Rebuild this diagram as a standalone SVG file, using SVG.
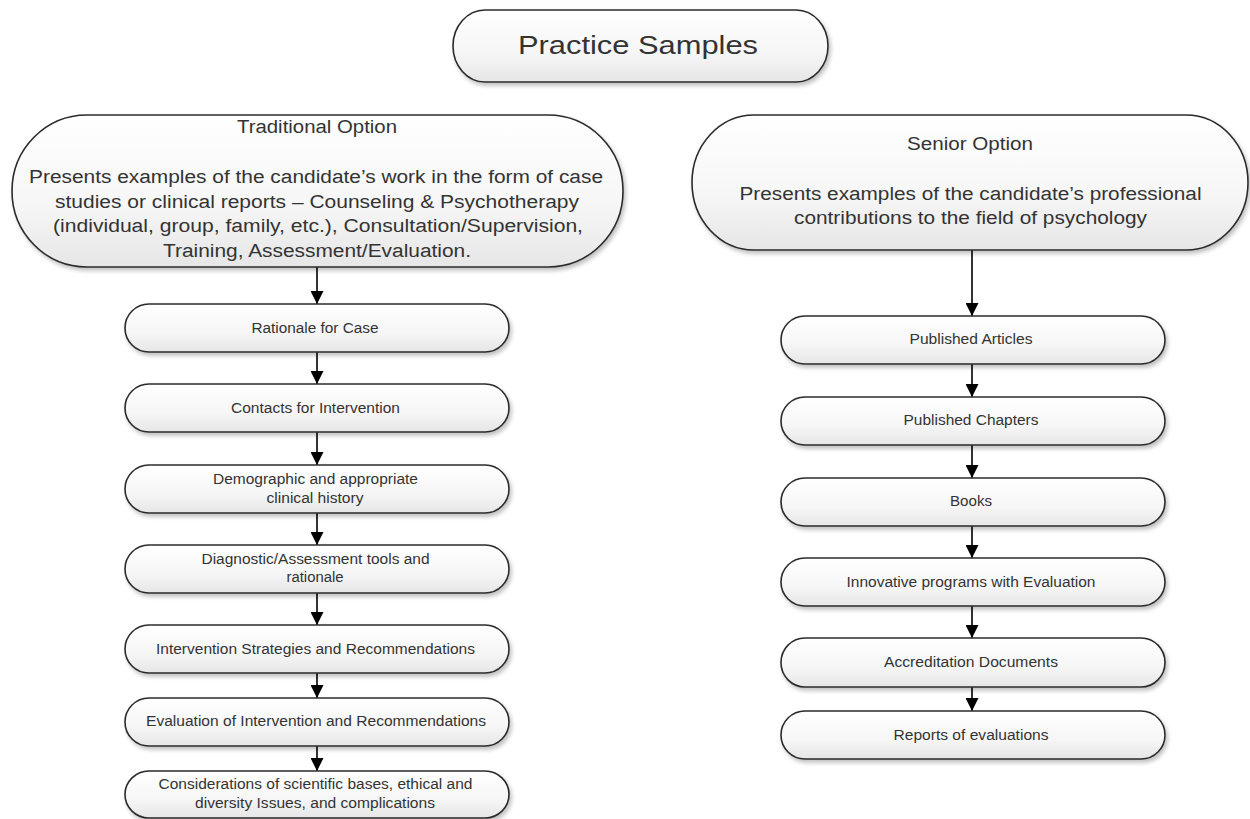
<svg xmlns="http://www.w3.org/2000/svg" width="1250" height="819" viewBox="0 0 1250 819">
<defs>
<linearGradient id="fillGrad" x1="0" y1="0" x2="0" y2="1">
<stop offset="0" stop-color="#ffffff"/>
<stop offset="0.6" stop-color="#f6f6f6"/>
<stop offset="1" stop-color="#e6e6e6"/>
</linearGradient>
<filter id="shadow" x="-5%" y="-10%" width="115%" height="135%">
<feGaussianBlur in="SourceAlpha" stdDeviation="2"/>
<feOffset dx="2" dy="3" result="b"/>
<feComponentTransfer><feFuncA type="linear" slope="0.25"/></feComponentTransfer>
<feMerge><feMergeNode/><feMergeNode in="SourceGraphic"/></feMerge>
</filter>
<marker id="arrow" viewBox="0 0 10 10" refX="10" refY="5" markerWidth="13" markerHeight="13" markerUnits="userSpaceOnUse" orient="auto">
<path d="M0,0 L10,5 L0,10 z" fill="#000"/>
</marker>
</defs>
<style>
.node{fill:url(#fillGrad);stroke:#2b2b2b;stroke-width:1.6;filter:url(#shadow)}
.t{font-family:"Liberation Sans",Arial,sans-serif;fill:#333;text-anchor:middle}
.big{font-size:18px}
.small{font-size:14px}
.title{font-size:26px}
.conn{stroke:#000;stroke-width:1.6;fill:none;marker-end:url(#arrow)}
</style>
<rect width="1250" height="819" fill="#ffffff"/>

<g id="connectors">
<line class="conn" x1="317" y1="267" x2="317" y2="304"/>
<line class="conn" x1="317" y1="352" x2="317" y2="384"/>
<line class="conn" x1="317" y1="432" x2="317" y2="465"/>
<line class="conn" x1="317" y1="513" x2="317" y2="545"/>
<line class="conn" x1="317" y1="593" x2="317" y2="625"/>
<line class="conn" x1="317" y1="673" x2="317" y2="698"/>
<line class="conn" x1="317" y1="746" x2="317" y2="771"/>
<line class="conn" x1="972" y1="250" x2="972" y2="316"/>
<line class="conn" x1="972" y1="364" x2="972" y2="397"/>
<line class="conn" x1="972" y1="445" x2="972" y2="478"/>
<line class="conn" x1="972" y1="526" x2="972" y2="558"/>
<line class="conn" x1="972" y1="606" x2="972" y2="638"/>
<line class="conn" x1="972" y1="687" x2="972" y2="711"/>
</g>

<g id="practice-samples">
<rect class="node" x="453" y="10" width="375" height="72" rx="32" ry="36"/>
<text class="t title" x="638" y="54" textLength="240" lengthAdjust="spacingAndGlyphs">Practice Samples</text>
</g>

<g id="traditional-option">
<rect class="node" x="12" y="115" width="611" height="152" rx="75" ry="76"/>
<text class="t big" x="317" y="133" textLength="160" lengthAdjust="spacingAndGlyphs">Traditional Option</text>
<text class="t big" x="316" y="183" textLength="574" lengthAdjust="spacingAndGlyphs">Presents examples of the candidate’s work in the form of case</text>
<text class="t big" x="317" y="208" textLength="524" lengthAdjust="spacingAndGlyphs">studies or clinical reports – Counseling &amp; Psychotherapy</text>
<text class="t big" x="318" y="232" textLength="530" lengthAdjust="spacingAndGlyphs">(individual, group, family, etc.), Consultation/Supervision,</text>
<text class="t big" x="317" y="257" textLength="308" lengthAdjust="spacingAndGlyphs">Training, Assessment/Evaluation.</text>
</g>

<g id="senior-option">
<rect class="node" x="692" y="115" width="556" height="135" rx="62" ry="67.5"/>
<text class="t big" x="970" y="150" textLength="126" lengthAdjust="spacingAndGlyphs">Senior Option</text>
<text class="t big" x="970.5" y="200" textLength="462" lengthAdjust="spacingAndGlyphs">Presents examples of the candidate’s professional</text>
<text class="t big" x="970.5" y="224" textLength="353" lengthAdjust="spacingAndGlyphs">contributions to the field of psychology</text>
</g>

<g id="rationale-for-case">
<rect class="node" x="125" y="304" width="384" height="48" rx="24" ry="24"/>
<text class="t small" x="315" y="333" textLength="127" lengthAdjust="spacingAndGlyphs">Rationale for Case</text>
</g>
<g id="contacts-for-intervention">
<rect class="node" x="125" y="384" width="384" height="48" rx="24" ry="24"/>
<text class="t small" x="315.5" y="413" textLength="169" lengthAdjust="spacingAndGlyphs">Contacts for Intervention</text>
</g>
<g id="demographic">
<rect class="node" x="125" y="465" width="384" height="48" rx="24" ry="24"/>
<text class="t small" x="315.5" y="484" textLength="205" lengthAdjust="spacingAndGlyphs">Demographic and appropriate</text>
<text class="t small" x="315" y="503" textLength="97" lengthAdjust="spacingAndGlyphs">clinical history</text>
</g>
<g id="diagnostic">
<rect class="node" x="125" y="545" width="384" height="48" rx="24" ry="24"/>
<text class="t small" x="315.5" y="564" textLength="228" lengthAdjust="spacingAndGlyphs">Diagnostic/Assessment tools and</text>
<text class="t small" x="315" y="582" textLength="57" lengthAdjust="spacingAndGlyphs">rationale</text>
</g>
<g id="intervention-strategies">
<rect class="node" x="125" y="625" width="384" height="48" rx="24" ry="24"/>
<text class="t small" x="315.5" y="654" textLength="319" lengthAdjust="spacingAndGlyphs">Intervention Strategies and Recommendations</text>
</g>
<g id="evaluation-of-intervention">
<rect class="node" x="125" y="698" width="384" height="48" rx="24" ry="24"/>
<text class="t small" x="316" y="726" textLength="340" lengthAdjust="spacingAndGlyphs">Evaluation of Intervention and Recommendations</text>
</g>
<g id="considerations">
<rect class="node" x="125" y="771" width="384" height="47" rx="24" ry="23.5"/>
<text class="t small" x="315.5" y="789" textLength="314" lengthAdjust="spacingAndGlyphs">Considerations of scientific bases, ethical and</text>
<text class="t small" x="315" y="808" textLength="240" lengthAdjust="spacingAndGlyphs">diversity Issues, and complications</text>
</g>

<g id="published-articles">
<rect class="node" x="781" y="316" width="384" height="48" rx="24" ry="24"/>
<text class="t small" x="971" y="344" textLength="123" lengthAdjust="spacingAndGlyphs">Published Articles</text>
</g>
<g id="published-chapters">
<rect class="node" x="781" y="397" width="384" height="48" rx="24" ry="24"/>
<text class="t small" x="971" y="425" textLength="135" lengthAdjust="spacingAndGlyphs">Published Chapters</text>
</g>
<g id="books">
<rect class="node" x="781" y="478" width="384" height="48" rx="24" ry="24"/>
<text class="t small" x="971" y="506" textLength="42" lengthAdjust="spacingAndGlyphs">Books</text>
</g>
<g id="innovative-programs">
<rect class="node" x="781" y="558" width="384" height="48" rx="24" ry="24"/>
<text class="t small" x="971" y="587" textLength="249" lengthAdjust="spacingAndGlyphs">Innovative programs with Evaluation</text>
</g>
<g id="accreditation-documents">
<rect class="node" x="781" y="638" width="384" height="49" rx="24" ry="24.5"/>
<text class="t small" x="971" y="667" textLength="174" lengthAdjust="spacingAndGlyphs">Accreditation Documents</text>
</g>
<g id="reports-of-evaluations">
<rect class="node" x="781" y="711" width="384" height="48" rx="24" ry="24"/>
<text class="t small" x="971" y="740" textLength="155" lengthAdjust="spacingAndGlyphs">Reports of evaluations</text>
</g>
</svg>
